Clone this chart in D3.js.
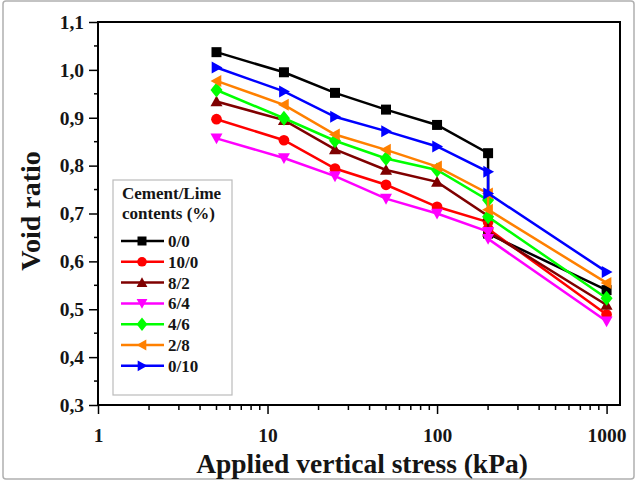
<!DOCTYPE html>
<html>
<head>
<meta charset="utf-8">
<script src="https://cdn.jsdelivr.net/npm/d3@7"></script>
<style>
  body { margin: 0; background: #fff; }
  svg { display: block; font-family: "Liberation Serif", "Times New Roman", serif; font-weight: bold; }
</style>
</head>
<body>
<script>
// applied stress steps (kPa), 200 appears twice (before/after soaking)
var stress = [5, 12.5, 25, 50, 100, 200, 200, 1000];

var names = ["0/0", "10/0", "8/2", "6/4", "4/6", "2/8", "0/10"];
var colors = ["#000000", "#ff0000", "#7f0000", "#ff00ff", "#00ff00", "#ff8000", "#0000ff"];
var symbols = ["square", "circle", "up", "down", "diamond", "left", "right"];

var e00  = [1.037, 0.995, 0.952, 0.917, 0.885, 0.826, 0.658, 0.540];
var e100 = [0.897, 0.853, 0.794, 0.760, 0.714, 0.682, 0.668, 0.489];
var e82  = [0.934, 0.895, 0.834, 0.791, 0.766, 0.695, 0.662, 0.509];
var e64  = [0.857, 0.816, 0.778, 0.731, 0.700, 0.662, 0.647, 0.475];
var e46  = [0.958, 0.899, 0.852, 0.815, 0.791, 0.728, 0.693, 0.523];
var e28  = [0.977, 0.927, 0.865, 0.833, 0.798, 0.742, 0.708, 0.555];
var e010 = [1.005, 0.955, 0.902, 0.872, 0.840, 0.787, 0.742, 0.578];
var series = [e00, e100, e82, e64, e46, e28, e010];

var yTicks = [0.3, 0.4, 0.5, 0.6, 0.7, 0.8, 0.9, 1.0, 1.1];
var xTicks = [1, 10, 100, 1000];

var W = 638, H = 482;
var svg = d3.select("body").append("svg").attr("width", W).attr("height", H);

// outer frame of the figure
svg.append("rect")
    .attr("x", 3).attr("y", 1).attr("width", 631).attr("height", 478)
    .attr("rx", 3)
    .attr("fill", "none").attr("stroke", "#b0b0b0").attr("stroke-width", 1.5);

var x = d3.scaleLog().domain([1, 1200]).range([98, 620]);
var y = d3.scaleLinear().domain([0.3, 1.1]).range([405, 22]);

// minor ticks
var yMinor = d3.range(0.35, 1.1, 0.1);
svg.append("g").selectAll("line").data(yMinor).enter().append("line")
    .attr("x1", 94).attr("x2", 98)
    .attr("y1", function (d) { return y(d); }).attr("y2", function (d) { return y(d); })
    .attr("stroke", "#000").attr("stroke-width", 1.5);

var xMinor = [];
[1, 10, 100].forEach(function (b) {
    for (var k = 2; k <= 9; k++) xMinor.push(b * k);
});
svg.append("g").selectAll("line").data(xMinor).enter().append("line")
    .attr("y1", 405).attr("y2", 410)
    .attr("x1", function (d) { return x(d); }).attr("x2", function (d) { return x(d); })
    .attr("stroke", "#000").attr("stroke-width", 1.5);

// axes
var yAxis = d3.axisLeft(y).tickValues(yTicks).tickSize(9).tickPadding(5)
    .tickFormat(function (d) { return d3.format(".1f")(d).replace(".", ","); });
var gy = svg.append("g").attr("transform", "translate(98,0)").call(yAxis);

var xAxis = d3.axisBottom(x).tickValues(xTicks).tickSize(9).tickPadding(14)
    .tickFormat(d3.format("d"));
var gx = svg.append("g").attr("transform", "translate(0,405)").call(xAxis);

[gx, gy].forEach(function (g) {
    g.select(".domain").remove();
    g.selectAll(".tick line").attr("stroke", "#000").attr("stroke-width", 1.5);
    g.selectAll(".tick text")
        .attr("fill", "#151515")
        .style("font-family", "Liberation Serif, serif")
        .style("font-weight", "bold")
        .style("font-size", "19.5px");
});

// plot box
svg.append("rect")
    .attr("x", 98).attr("y", 22).attr("width", 620 - 98).attr("height", 405 - 22)
    .attr("fill", "none").attr("stroke", "#000").attr("stroke-width", 2);

// axis titles
svg.append("text")
    .attr("transform", "translate(40,211) rotate(-90)")
    .attr("text-anchor", "middle")
    .style("font-size", "28px")
    .attr("fill", "#151515")
    .text("Void ratio");

svg.append("text")
    .attr("x", 362).attr("y", 473)
    .attr("text-anchor", "middle")
    .style("font-size", "27.5px")
    .attr("fill", "#151515")
    .text("Applied vertical stress (kPa)");

function symbolPath(kind, s) {
    if (kind === "square") return d3.symbol(d3.symbolSquare, s * s)();
    if (kind === "circle") return d3.symbol(d3.symbolCircle, s * s * 0.9)();
    if (kind === "diamond") return "M0," + (-s * 0.75) + "L" + (s * 0.6) + ",0L0," + (s * 0.75) + "L" + (-s * 0.6) + ",0Z";
    var h = s * 0.6;
    if (kind === "up") return "M0," + (-h) + "L" + h + "," + (h * 0.8) + "L" + (-h) + "," + (h * 0.8) + "Z";
    if (kind === "down") return "M0," + h + "L" + h + "," + (-h * 0.8) + "L" + (-h) + "," + (-h * 0.8) + "Z";
    if (kind === "left") return "M" + (-h) + ",0L" + (h * 0.8) + "," + (-h) + "L" + (h * 0.8) + "," + h + "Z";
    return "M" + h + ",0L" + (-h * 0.8) + "," + (-h) + "L" + (-h * 0.8) + "," + h + "Z";
}

var line = d3.line()
    .x(function (d) { return x(d[0]); })
    .y(function (d) { return y(d[1]); });

var plot = svg.append("g");
series.forEach(function (vals, i) {
    var pts = stress.map(function (s, j) { return [s, vals[j]]; });
    var g = plot.append("g");
    g.append("path")
        .attr("d", line(pts))
        .attr("fill", "none")
        .attr("stroke", colors[i])
        .attr("stroke-width", 2.5);
    g.selectAll("path.m").data(pts).enter().append("path")
        .attr("class", "m")
        .attr("transform", function (d) { return "translate(" + x(d[0]) + "," + y(d[1]) + ")"; })
        .attr("d", symbolPath(symbols[i], 10))
        .attr("fill", colors[i]);
});

// legend
var lg = svg.append("g").attr("transform", "translate(113,180)");
lg.append("rect")
    .attr("width", 119).attr("height", 215)
    .attr("fill", "#fff").attr("stroke", "#bbbbbb").attr("stroke-width", 1.2);
lg.append("text").attr("x", 9).attr("y", 19).style("font-size", "17px").attr("fill", "#151515").text("Cement/Lime");
lg.append("text").attr("x", 9).attr("y", 39).style("font-size", "17px").attr("fill", "#151515").text("contents (%)");

var items = lg.selectAll("g.item").data(names).enter().append("g")
    .attr("class", "item")
    .attr("transform", function (d, i) { return "translate(0," + (61 + i * 20.8) + ")"; });
items.append("line")
    .attr("x1", 8).attr("x2", 51).attr("y1", 0).attr("y2", 0)
    .attr("stroke", function (d, i) { return colors[i]; })
    .attr("stroke-width", 2.5);
items.append("path")
    .attr("transform", "translate(29,0)")
    .attr("d", function (d, i) { return symbolPath(symbols[i], 9); })
    .attr("fill", function (d, i) { return colors[i]; });
items.append("text")
    .attr("x", 55).attr("y", 6)
    .style("font-size", "17px")
    .attr("fill", "#151515")
    .text(function (d) { return d; });
</script>
</body>
</html>
